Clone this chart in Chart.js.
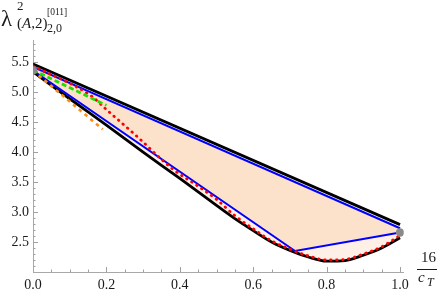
<!DOCTYPE html>
<html><head><meta charset="utf-8">
<script src="https://cdn.jsdelivr.net/npm/chart.js@4/dist/chart.umd.min.js"></script>
<style>
html,body{margin:0;padding:0;background:#fff;}
#wrap{position:relative;width:441px;height:299px;overflow:hidden;}
#c{position:absolute;left:0;top:0;}
.lab{position:absolute;font-family:"Liberation Serif","Times New Roman",Tinos,"DejaVu Serif",serif;color:#1a1a1a;white-space:nowrap;line-height:1;}
.it{font-style:italic;}
#frac{position:absolute;left:417px;top:269px;width:20px;height:1px;background:#1a1a1a;}
</style></head><body>
<div id="wrap">
<canvas id="c" width="441" height="299"></canvas>
<span class="lab" style="left:1px;top:7px;font-size:23px;">λ</span>
<span class="lab" style="left:17px;top:-1px;font-size:13px;">2</span>
<span class="lab" style="left:17px;top:16px;font-size:15px;">(<span class="it">A</span>,2)</span>
<span class="lab" style="left:47px;top:22px;font-size:12px;">2,0</span>
<span class="lab" style="left:47px;top:8px;font-size:9.5px;">[011]</span>
<span class="lab" style="left:421px;top:250px;font-size:15px;">16</span>
<div id="frac"></div>
<span class="lab it" style="left:418px;top:270px;font-size:15px;">c</span>
<span class="lab it" style="left:427px;top:276px;font-size:12px;">T</span>
</div>
<script>
// ---- data ----
const xTicks = [0.0, 0.2, 0.4, 0.6, 0.8, 1.0];
const yTicks = [2.5, 3.0, 3.5, 4.0, 4.5, 5.0, 5.5];

const upperX = [0, 1.0];
const upperBlack = [5.47, 2.79];
const upperBlue = [5.42, 2.73];

const lowerBlueX = [0, 0.714, 1.0];
const lowerBlue = [5.36, 2.35, 2.66];

const lowerBlackX = [0, 0.1, 0.2, 0.3, 0.4, 0.5, 0.55, 0.6, 0.65, 0.7, 0.75, 0.8, 0.85, 0.9, 0.95, 1.0];
const lowerBlack = [5.34, 4.89, 4.45, 4.00, 3.56, 3.11, 2.89, 2.69, 2.50, 2.36, 2.25, 2.18, 2.19, 2.28, 2.40, 2.57];

const redX = [0, 0.16, 0.2, 0.28, 0.38, 0.45, 0.5, 0.55, 0.6, 0.65, 0.7, 0.75, 0.8, 0.85, 0.9, 0.95, 1.0];
const red = [5.44, 4.93, 4.71, 4.28, 3.72, 3.43, 3.21, 2.94, 2.72, 2.52, 2.38, 2.27, 2.20, 2.21, 2.30, 2.42, 2.61];

const greenX = [0, 0.2];
const green = [5.37, 4.78];

const orangeX = [0, 0.19];
const orange = [5.36, 4.38];

const pointX = [0, 1.0];
const pointY = [5.36, 2.66];

const xMinorStep = 0.05, yMinorStep = 0.1;

// ---- build ----
const pts = (xs, ys) => xs.map((x, i) => ({x, y: ys[i]}));
const SERIF = '"Liberation Serif", "Times New Roman", Tinos, "DejaVu Serif", serif';

const DARK = 'rgb(253,226,203)';
const LIGHT = 'rgb(254,240,230)';

const datasets = [
  {data: pts(pointX, pointY), showLine: false, pointRadius: 4.2, pointBackgroundColor: '#8a8a8a', pointBorderWidth: 0, order: 0},
  {data: pts(orangeX, orange), showLine: true, pointRadius: 0, borderColor: '#ff8c1a', borderWidth: 2.6, borderDash: [3.5, 4], order: 1},
  {data: pts(greenX, green), showLine: true, pointRadius: 0, borderColor: '#22dd00', borderWidth: 2.8, borderDash: [5, 3], order: 2},
  {data: pts(redX, red), showLine: true, pointRadius: 0, borderColor: '#ff0000', borderWidth: 2.8, borderDash: [0.5, 5.5], borderCapStyle: 'round', cubicInterpolationMode: 'monotone', order: 3},
  {data: pts(upperX, upperBlue), showLine: true, pointRadius: 0, borderColor: '#0000ff', borderWidth: 2, fill: {target: 5}, backgroundColor: DARK, order: 4},
  {data: pts(lowerBlueX, lowerBlue), showLine: true, pointRadius: 0, borderColor: '#0000ff', borderWidth: 2, fill: {target: 7}, backgroundColor: LIGHT, order: 5},
  {data: pts(upperX, upperBlack), showLine: true, pointRadius: 0, borderColor: '#000000', borderWidth: 2.8, order: 6},
  {data: pts(lowerBlackX, lowerBlack), showLine: true, pointRadius: 0, borderColor: '#000000', borderWidth: 2.8, cubicInterpolationMode: 'monotone', order: 7}
];

const tickPlugin = {
  id: 'mmaTicks',
  beforeDatasetsDraw(chart) {
    const ctx = chart.ctx, xs = chart.scales.x, ys = chart.scales.y;
    const b = chart.chartArea.bottom, l = chart.chartArea.left;
    ctx.save();
    ctx.strokeStyle = '#a0a0a0';
    ctx.lineWidth = 1;
    ctx.beginPath();
    for (let k = 1; k * xMinorStep <= 1.0001; k++) {
      const v = k * xMinorStep;
      const major = xTicks.some(t => Math.abs(t - v) < 1e-6);
      const px = Math.round(xs.getPixelForValue(v)) + 0.5;
      ctx.moveTo(px, b); ctx.lineTo(px, b - (major ? 5 : 2.5));
    }
    for (let k = 1; 2.0 + k * yMinorStep <= ys.max; k++) {
      const v = 2.0 + k * yMinorStep;
      const major = yTicks.some(t => Math.abs(t - v) < 1e-6);
      const py = Math.round(ys.getPixelForValue(v)) + 0.5;
      ctx.moveTo(l, py); ctx.lineTo(l + (major ? 5 : 2.5), py);
    }
    ctx.stroke();
    ctx.restore();
  }
};

new Chart(document.getElementById('c'), {
  type: 'scatter',
  data: {datasets},
  plugins: [tickPlugin],
  options: {
    responsive: false,
    animation: false,
    devicePixelRatio: 1,
    layout: {padding: {left: 0, right: 37.3, top: 40, bottom: 0}},
    plugins: {legend: {display: false}, tooltip: {enabled: false}, filler: {drawTime: 'beforeDatasetsDraw'}},
    elements: {line: {tension: 0}},
    scales: {
      x: {
        type: 'linear', min: 0, max: 1.01,
        grid: {display: false, drawTicks: false},
        border: {display: true, color: '#a8a8a8', width: 1},
        afterBuildTicks: s => { s.ticks = xTicks.map(v => ({value: v})); },
        afterFit: s => { s.height = 27; },
        ticks: {padding: 5, color: '#1a1a1a', font: {family: SERIF, size: 14}, callback: v => Number(v).toFixed(1), maxRotation: 0, autoSkip: false}
      },
      y: {
        type: 'linear', min: 2.0, max: 5.87,
        grid: {display: false, drawTicks: false},
        border: {display: true, color: '#a8a8a8', width: 1},
        afterBuildTicks: s => { s.ticks = yTicks.map(v => ({value: v})); },
        afterFit: s => { s.width = 33; },
        ticks: {padding: 4, color: '#1a1a1a', font: {family: SERIF, size: 14}, callback: v => Number(v).toFixed(1), autoSkip: false}
      }
    }
  }
});
</script>
</body></html>
